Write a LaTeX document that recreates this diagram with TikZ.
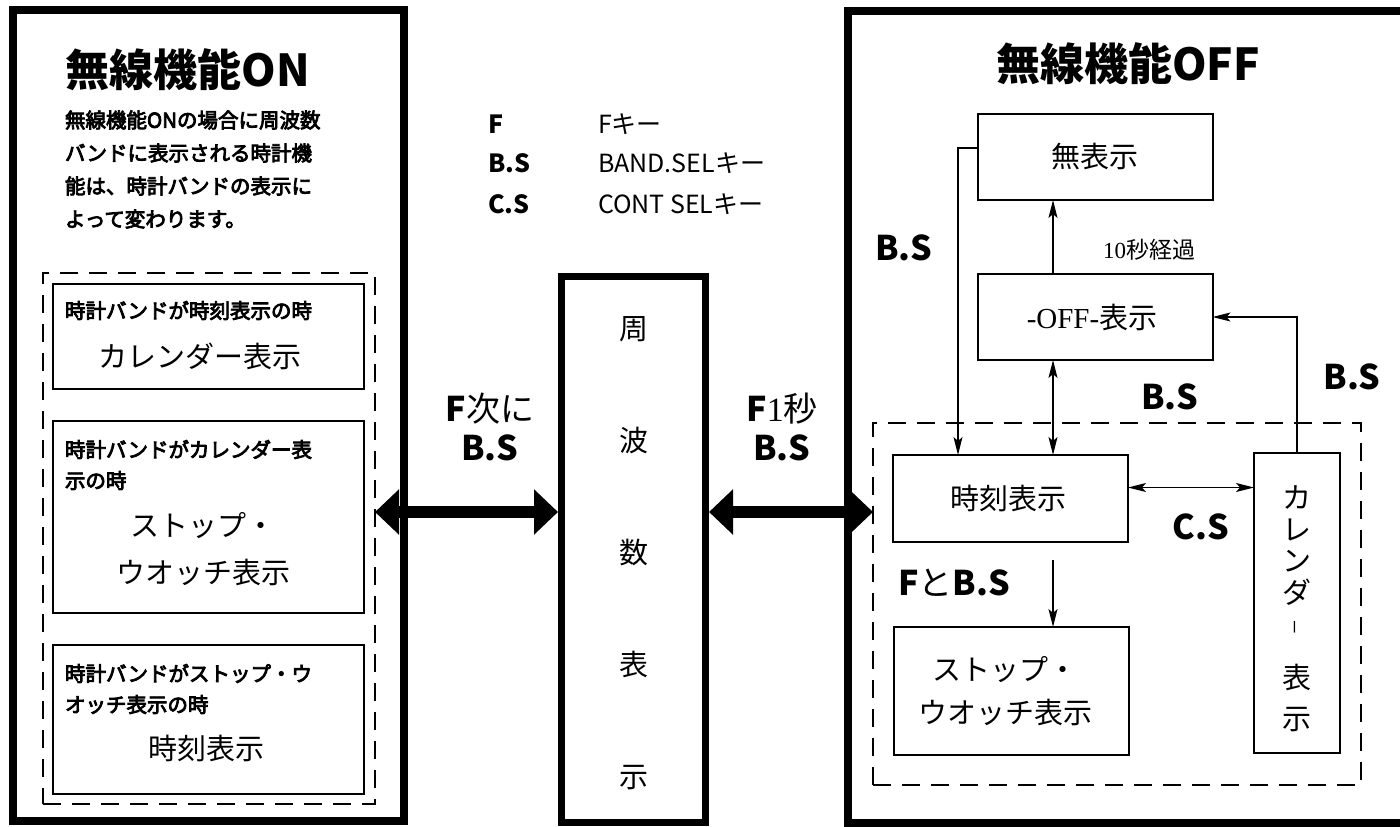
\documentclass[tikz,border=0pt]{standalone}
\usepackage{fontspec}
\setmainfont{Liberation Serif}
\newfontfamily\jp{Noto Sans CJK JP}
\newfontfamily\jpmed{Noto Sans CJK JP}[FakeBold=4]
\usetikzlibrary{arrows.meta}

\begin{document}
\begin{tikzpicture}[
    x=1pt, y=-1pt,
    every node/.style={inner sep=0pt, outer sep=0pt},
    panel/.style={rectangle, draw, line width=8pt, anchor=north west},
    freqpanel/.style={rectangle, draw, line width=7pt, anchor=north west},
    group/.style={rectangle, draw, line width=2pt, dash pattern=on 18pt off 11pt, anchor=north west},
    stbox/.style={rectangle, draw, line width=2pt, anchor=north west},
    title/.style={font=\jp\bfseries\fontsize{44}{48}\selectfont},
    para/.style={font=\jpmed\fontsize{20.5}{33}\selectfont, align=left, anchor=west},
    legend/.style={font=\jp\fontsize{25}{30}\selectfont, anchor=west},
    disp/.style={font=\jp\fontsize{29}{47}\selectfont, align=center},
    keylabel/.style={font=\jp\fontsize{34}{39}\selectfont, align=center},
    arrow/.style={-{Stealth[length=18pt,width=9pt,inset=4pt]}, line width=1.5pt},
    dblarrow/.style={{Stealth[length=18pt,width=9pt,inset=4pt]}-{Stealth[length=18pt,width=9pt,inset=4pt]}, line width=1.5pt},
    bigarrow/.style={{Triangle[length=24pt,width=44pt]}-{Triangle[length=24pt,width=44pt]}, line width=12pt},
]
\useasboundingbox (0,0) rectangle (1400,827);

% Radio ON panel
\node[panel, minimum width=391.5pt, minimum height=811pt] (onpanel) at (12.5,10) {};
\node[title] (ontitle) at (188,70) {無線機能ON};
\node[para] (ontext) at (65,169.5) {無線機能ONの場合に周波数\\バンドに表示される時計機\\能は、時計バンドの表示に\\よって変わります。};
\node[group, minimum width=332pt, minimum height=531.3pt] (ondash) at (43,272.7) {};

\node[stbox, minimum width=311pt, minimum height=105.5pt] (case1) at (53,283.5) {};
\node[para] (case1note) at (65,310.5) {時計バンドが時刻表示の時};
\node[disp] (case1disp) at (200,356) {カレンダー表示};

\node[stbox, minimum width=311pt, minimum height=191.6pt] (case2) at (53,421) {};
\node[para, font=\jpmed\fontsize{20.5}{31}\selectfont] (case2note) at (65,465) {時計バンドがカレンダー表\\示の時};
\node[disp] (case2disp) at (203,549) {ストップ・\\ウオッチ表示};

\node[stbox, minimum width=311pt, minimum height=148.5pt] (case3) at (53,645) {};
\node[para, font=\jpmed\fontsize{20.5}{31}\selectfont] (case3note) at (65,689) {時計バンドがストップ・ウ\\オッチ表示の時};
\node[disp] (case3disp) at (206,748) {時刻表示};

% Key legend
\node[legend] (keyF) at (488,124) {\textbf{F}};
\node[legend] (keyBS) at (488,163) {\textbf{B.S}};
\node[legend] (keyCS) at (488,204) {\textbf{C.S}};
\node[legend] (nameF) at (598,124) {Fキー};
\node[legend] (nameBS) at (598,163) {BAND.SELキー};
\node[legend] (nameCS) at (598,204) {CONT SELキー};

% Frequency display
\node[freqpanel, minimum width=144pt, minimum height=545.5pt] (freq) at (561.5,276.5) {};
\node[disp, font=\jp\fontsize{29}{112}\selectfont] (freqtext) at (633.5,553.5) {周\\波\\数\\表\\示};

\node[keylabel] (onkey) at (490,427) {\textbf{F}次に\\\textbf{B.S}};
\node[keylabel] (offkey) at (782,427) {\textbf{F}{\rmfamily 1}秒\\\textbf{B.S}};

% Radio OFF panel
\node[panel, minimum width=572pt, minimum height=812pt] (offpanel) at (848,11) {};
\node[title] (offtitle) at (1128,64) {無線機能OFF};

\node[stbox, minimum width=234.5pt, minimum height=86pt] (blank) at (978,114) {};
\node[disp] (blanktext) at (1095,157) {無表示};
\node[stbox, minimum width=234.5pt, minimum height=86pt] (offshow) at (978,274) {};
\node[disp] (offshowtext) at (1092,317) {{\rmfamily -OFF-}表示};
\node[font=\jp\fontsize{23}{26}\selectfont] (tensec) at (1149,250) {{\rmfamily 10}秒経過};

\node[group, minimum width=488pt, minimum height=362pt] (offdash) at (873,423) {};
\node[stbox, minimum width=235pt, minimum height=87pt] (clock) at (893,455) {};
\node[disp] (clocktext) at (1008,498) {時刻表示};
\node[stbox, minimum width=235pt, minimum height=128pt] (stopw) at (893.5,627) {};
\node[disp, font=\jp\fontsize{29}{43}\selectfont] (stopwtext) at (1005,691.5) {ストップ・\\ウオッチ表示};
\node[stbox, minimum width=86pt, minimum height=300pt] (calendar) at (1254,453) {};
\foreach \ch/\yy [count=\i] in {カ/497, レ/530, ン/561, ダ/592, 表/677, 示/720}
    \node[disp] (cal\i) at (1297,\yy) {\ch};
\node[disp, rotate=90, scale=0.5] (calbar) at (1297,627) {ー};

\node[keylabel] (bsleft) at (904,248) {\textbf{B.S}};
\node[keylabel] (bsmid) at (1170,397) {\textbf{B.S}};
\node[keylabel] (bsright) at (1352,377) {\textbf{B.S}};
\node[keylabel] (cskey) at (1201,527) {\textbf{C.S}};
\node[keylabel] (fbskey) at (954,583) {\textbf{F}と\textbf{B.S}};

% Connectors
\coordinate (axis) at (1053,0);
\coordinate (loopx) at (958,0);
\coordinate (ay) at (0,512);
\draw[arrow] (axis |- offshow.north) -- (axis |- blank.south);
\draw[arrow] ([yshift=9pt]blank.west) -| (loopx |- clock.north);
\draw[dblarrow] (axis |- offshow.south) -- (axis |- clock.north);
\draw[dblarrow] ([yshift=11pt]clock.east) -- ([yshift=11pt]clock.east -| calendar.west);
\draw[arrow] ([yshift=-18pt]axis |- clock.south) -- (axis |- stopw.north);
\draw[arrow] (calendar.north) |- (offshow.east);

\draw[bigarrow] (ondash.east |- ay) -- ([xshift=-3.5pt]freq.west |- ay);
\draw[bigarrow] ([xshift=3.5pt]freq.east |- ay) -- (offdash.west |- ay);

\end{tikzpicture}
\end{document}
